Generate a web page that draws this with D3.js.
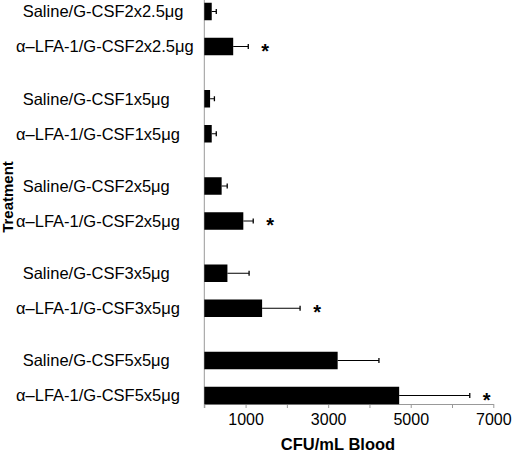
<!DOCTYPE html>
<html>
<head>
<meta charset="utf-8">
<script src="https://cdn.jsdelivr.net/npm/d3@7"></script>
<style>
  body { margin: 0; background: #fff; }
  text { font-family: "Liberation Sans", Arial, sans-serif; fill: #000; }
</style>
</head>
<body>
<script>
//chart values
var groups = ["G-CSF2x2.5μg", "G-CSF1x5μg", "G-CSF2x5μg", "G-CSF3x5μg", "G-CSF5x5μg"];
var series = ["Saline", "α–LFA-1"];
var salineMeans = [180, 140, 420, 560, 3230];
var salineErr = [110, 105, 135, 525, 1000];
var lfaMeans = [700, 180, 945, 1400, 4720];
var lfaErr = [365, 110, 240, 920, 1710];
var lfaStar = [true, false, true, true, true];
var xTicks = [0, 1000, 2000, 3000, 4000, 5000, 6000, 7000];

window.onload = drawChart();

function drawChart(){

    var width = 520,
        height = 454,
        axisY = 404;

    var svg = d3.select("body")
        .append("svg")
        .attr("width", width)
        .attr("height", height);

    //flatten into one row per bar
    var rows = [];
    groups.forEach(function(g, i){
        rows.push({group: g, series: series[0], mean: salineMeans[i], err: salineErr[i], star: false});
        rows.push({group: g, series: series[1], mean: lfaMeans[i], err: lfaErr[i], star: lfaStar[i]});
    });

    var x = d3.scaleLinear()
        .domain([0, 7000])
        .range([204.3, 493.3]);

    var yGroup = d3.scalePoint()
        .domain(groups)
        .range([29, 378]);

    var ySeries = d3.scaleBand()
        .domain(series)
        .range([-43.75, 43.75])
        .paddingInner(0.5)
        .paddingOuter(0.5);

    function yTop(d){ return yGroup(d.group) + ySeries(d.series); }
    function yMid(d){ return yTop(d) + ySeries.bandwidth() / 2; }

    //x axis
    var xAxis = d3.axisBottom(x)
        .tickValues(xTicks)
        .tickSize(4)
        .tickSizeOuter(0)
        .tickFormat(function(d){ return d % 2000 === 1000 ? d3.format("d")(d) : ""; });

    var gx = svg.append("g")
        .attr("transform", "translate(0," + axisY + ")")
        .call(xAxis);
    gx.select(".domain").attr("stroke", "#999");
    gx.selectAll(".tick line").attr("stroke", "#999");
    gx.selectAll(".tick text")
        .attr("y", 10)
        .style("font-size", "16px")
        .style("font-family", "'Liberation Sans', Arial, sans-serif")
        .attr("fill", "#000");

    //vertical axis line
    svg.append("line")
        .attr("x1", x(0)).attr("x2", x(0))
        .attr("y1", 0).attr("y2", axisY + 4)
        .attr("stroke", "#999");

    //bars
    svg.selectAll(".bar")
        .data(rows)
        .enter()
        .append("rect")
        .attr("class", "bar")
        .attr("x", x(0))
        .attr("y", yTop)
        .attr("width", function(d){ return x(d.mean) - x(0); })
        .attr("height", ySeries.bandwidth())
        .attr("fill", "#000");

    //error bars
    svg.selectAll(".err")
        .data(rows)
        .enter()
        .append("line")
        .attr("class", "err")
        .attr("x1", function(d){ return x(d.mean); })
        .attr("x2", function(d){ return x(d.mean + d.err); })
        .attr("y1", yMid).attr("y2", yMid)
        .attr("stroke", "#000");

    svg.selectAll(".cap")
        .data(rows)
        .enter()
        .append("line")
        .attr("class", "cap")
        .attr("x1", function(d){ return x(d.mean + d.err); })
        .attr("x2", function(d){ return x(d.mean + d.err); })
        .attr("y1", function(d){ return yMid(d) - 2.5; })
        .attr("y2", function(d){ return yMid(d) + 2.5; })
        .attr("stroke", "#000")
        .attr("stroke-width", 1.3);

    //significance stars
    svg.selectAll(".star")
        .data(rows.filter(function(d){ return d.star; }))
        .enter()
        .append("text")
        .attr("class", "star")
        .attr("x", function(d){ return x(d.mean + d.err) + 17; })
        .attr("y", function(d){ return yMid(d) + 11; })
        .attr("text-anchor", "middle")
        .style("font-size", "20px")
        .style("font-weight", "bold")
        .text("*");

    //category labels
    svg.selectAll(".label")
        .data(rows)
        .enter()
        .append("text")
        .attr("class", "label")
        .attr("x", function(d){ return d.series === series[0] ? 22.7 : 16; })
        .attr("y", yMid)
        .attr("dy", "0.35em")
        .style("font-size", "16.5px")
        .text(function(d){ return d.series + "/" + d.group; });

    //axis titles
    svg.append("text")
        .attr("x", 338)
        .attr("y", 450)
        .attr("text-anchor", "middle")
        .style("font-size", "16.5px")
        .style("font-weight", "bold")
        .text("CFU/mL Blood");

    svg.append("text")
        .attr("transform", "translate(13,197) rotate(-90)")
        .attr("text-anchor", "middle")
        .style("font-size", "15px")
        .style("font-weight", "bold")
        .text("Treatment");
};
</script>
</body>
</html>
